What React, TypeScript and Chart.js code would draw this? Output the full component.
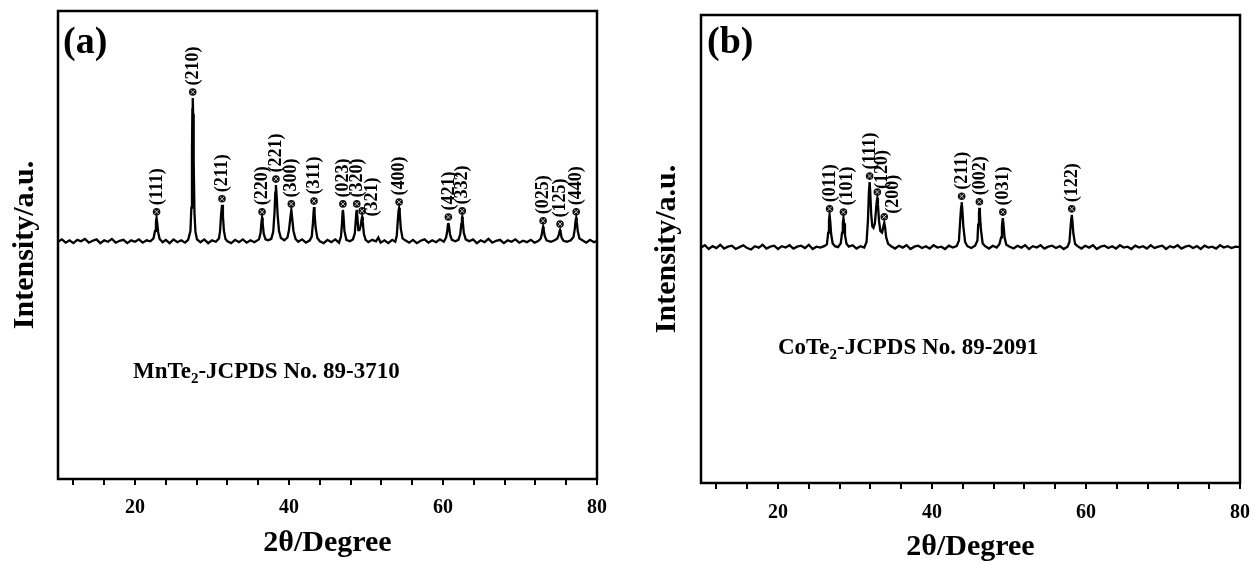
import React, { useEffect, useRef } from "react";
import { Chart, registerables } from "chart.js";
Chart.register(...registerables);

// ---------- Panel (a): MnTe2 ----------
const twoThetaA: number[] = [
  10, 10.5, 11, 11.5, 12, 12.5, 13, 13.5, 14, 14.5, 15, 15.5, 16, 16.5, 17, 17.5, 18, 18.5, 19, 19.5, 20, 20.5, 21, 21.5, 22,
  22.4, 22.6, 22.72, 22.8, 22.88, 23.0, 23.2,
  23.6, 24, 24.5, 25, 25.5, 26, 26.5, 26.9,
  27.2, 27.32, 27.4, 27.45, 27.5, 27.55, 27.62, 27.72, 27.85, 28.05,
  28.5, 29, 29.5, 30, 30.5, 30.9,
  31.05, 31.18, 31.3, 31.42, 31.55, 31.75,
  32, 32.5, 33, 33.5, 34, 34.5, 35, 35.5, 36.1,
  36.3, 36.42, 36.5, 36.58, 36.72, 36.95,
  37.3, 37.7, 37.95,
  38.12, 38.22, 38.3, 38.38, 38.52, 38.7, 38.95,
  39.4, 39.8, 40.0,
  40.15, 40.3, 40.42, 40.58, 40.85,
  41.2, 41.7, 42.2, 42.7, 42.95,
  43.1, 43.19, 43.25, 43.32, 43.45, 43.68,
  44, 44.5, 45, 45.5, 46, 46.5, 46.75,
  46.88, 46.96, 47.0, 47.06, 47.2, 47.45,
  47.9, 48.3, 48.55,
  48.68, 48.76, 48.8, 48.86, 49.0, 49.15,
  49.3, 49.42, 49.5, 49.58, 49.72, 49.95,
  50.3, 50.8, 51.3, 51.6, 51.9, 52.4, 52.9, 53.4, 53.8, 54.0,
  54.12, 54.22, 54.3, 54.38, 54.52, 54.75,
  55.1, 55.6, 56.1, 56.6, 57.1, 57.6, 58.1, 58.6, 59.1, 59.6, 60.1, 60.4,
  60.55, 60.65, 60.7, 60.78, 60.92, 61.15,
  61.6, 62.0, 62.25,
  62.38, 62.46, 62.5, 62.56, 62.7, 62.95,
  63.4, 63.9, 64.4, 64.9, 65.4, 65.9, 66.4, 66.9, 67.4, 67.9, 68.4, 68.9, 69.4, 69.9, 70.4, 70.9, 71.4, 71.9, 72.4, 72.7,
  72.85, 72.95, 73.0, 73.07, 73.2, 73.45,
  74.0, 74.5, 74.85,
  75.05, 75.15, 75.2, 75.27, 75.4, 75.65,
  76.1, 76.6, 76.95,
  77.12, 77.22, 77.3, 77.37, 77.5, 77.72,
  78.1, 78.6, 79.1, 79.6, 80,
];
const intensityA: number[] = [
  507, 512, 505, 510, 504, 511, 508, 513, 505, 509, 512, 504, 510, 507, 513, 505, 509, 511, 504, 510, 507, 512, 505, 510, 508,
  514, 530, 550, 558, 548, 528, 513,
  506, 511, 504, 512, 506, 510, 505, 511,
  530, 580, 700, 790, 814, 780, 680, 570, 528, 512,
  506, 512, 504, 510, 507, 514,
  530, 565, 586, 562, 530, 513,
  508, 504, 511, 506, 512, 505, 510, 506, 512,
  525, 548, 558, 546, 524, 512,
  510, 513, 528,
  570, 612, 628, 610, 565, 530, 515,
  510, 516, 532,
  555, 575, 556, 530, 513,
  507, 512, 505, 510, 518,
  545, 570, 581, 568, 538, 515,
  508, 504, 511, 506, 512, 505, 518,
  545, 570, 575, 566, 530, 511,
  508, 512, 525,
  555, 572, 575, 565, 532, 532,
  540, 554, 560, 550, 524, 511,
  506, 511, 508, 516, 505, 510, 504, 511, 507, 520,
  550, 572, 579, 568, 535, 514,
  510, 505, 511, 504, 509, 512, 505, 510, 506, 512, 507, 516,
  530, 544, 547, 540, 522, 511,
  508, 511, 524,
  545, 557, 560, 552, 526, 512,
  508, 512, 504, 510, 506, 513, 505, 509, 511, 504, 510, 507, 512, 505, 509, 506, 511, 505, 509, 514,
  525, 536, 539, 534, 520, 510,
  507, 510, 514,
  522, 530, 532, 528, 516, 509,
  507, 510, 517,
  535, 552, 558, 550, 530, 514,
  510, 505, 511, 506, 509,
];
const peakPosA = [22.8, 27.5, 31.3, 36.5, 38.3, 40.3, 43.25, 47.0, 48.8, 49.5, 54.3, 60.7, 62.5, 73.0, 75.2, 77.3];
const peakTopA = [558, 814, 586, 558, 628, 575, 581, 575, 575, 560, 579, 547, 560, 539, 532, 558];
const hklA = ["(111)", "(210)", "(211)", "(220)", "(221)", "(300)", "(311)", "(023)", "(320)", "(321)", "(400)", "(421)", "(332)", "(025)", "(125)", "(440)"];

// ---------- Panel (b): CoTe2 ----------
const twoThetaB: number[] = [
  10, 10.5, 11, 11.5, 12, 12.5, 13, 13.5, 14, 14.5, 15, 15.5, 16, 16.5, 17, 17.5, 18, 18.5, 19, 19.5, 20, 20.5, 21, 21.5, 22, 22.5, 23, 23.5, 24, 24.5, 25, 25.5, 26,
  26.35, 26.52, 26.62, 26.7, 26.78, 26.9, 27.1,
  27.4, 27.8, 28.15,
  28.32, 28.42, 28.5, 28.58, 28.7, 28.9,
  29.2, 29.7, 30.2, 30.7, 31.2, 31.5,
  31.68, 31.8, 31.9, 31.98, 32.1, 32.25, 32.4,
  32.58, 32.72, 32.83, 32.9, 32.98, 33.12, 33.3,
  33.52, 33.68, 33.8, 33.9, 34.05, 34.3,
  34.7, 35.2, 35.7, 36.2, 36.7, 37.2, 37.7, 38.2, 38.7, 39.2, 39.7, 40.2, 40.7, 41.2, 41.7, 42.2, 42.7, 43.2, 43.5,
  43.66, 43.78, 43.85, 43.93, 44.07, 44.3,
  44.6, 45.1, 45.6, 45.9,
  46.0, 46.1, 46.15, 46.22, 46.35, 46.58,
  46.9, 47.4, 47.9, 48.4, 48.75, 48.98,
  49.08, 49.16, 49.2, 49.27, 49.42, 49.65,
  50.1, 50.6, 51.1, 51.6, 52.1, 52.6, 53.1, 53.6, 54.1, 54.6, 55.1, 55.6, 56.1, 56.6, 57.1, 57.6, 57.85,
  58.0, 58.1, 58.15, 58.22, 58.36, 58.58,
  58.9, 59.4, 59.9, 60.4, 60.9, 61.4, 61.9, 62.4, 62.9, 63.4, 63.9, 64.4, 64.9, 65.4, 65.9, 66.4, 66.9, 67.4, 67.9, 68.4,
  68.9, 69.4, 69.9, 70.4, 70.9, 71.4, 71.9, 72.4, 72.9, 73.4, 73.9, 74.4, 74.9, 75.4, 75.9, 76.4, 76.9, 77.4, 77.9, 78.4,
  78.9, 79.4, 80,
];
const intensityB: number[] = [
  503, 508, 500, 506, 502, 509, 501, 505, 507, 500, 504, 508, 502, 499, 506, 503, 509, 501, 505, 507, 500, 506, 503, 508, 501, 505, 507, 502, 509, 500, 505, 503, 506,
  510, 535, 560, 573, 560, 532, 512,
  506, 504, 512,
  535, 556, 566, 555, 530, 511,
  505, 508, 501, 506, 503, 515,
  560, 620, 643, 622, 575, 548, 545,
  555, 582, 603, 609, 595, 560, 538,
  535, 548, 556, 547, 525, 511,
  506, 501, 507, 503, 508, 500, 505, 507, 502, 506, 501, 508, 503, 505, 500, 507, 503, 506, 518,
  560, 590, 600, 587, 548, 515,
  506, 502, 507, 518,
  552, 578, 588, 575, 542, 512,
  506, 501, 507, 503, 510, 525,
  548, 562, 566, 556, 525, 509,
  505, 501, 507, 503, 508, 500, 506, 503, 508, 501, 505, 507, 502, 506, 500, 505, 515,
  548, 566, 573, 563, 533, 511,
  506, 501, 507, 503, 508, 500, 505, 507, 502, 506, 501, 508, 503, 505, 500, 507, 503, 506, 501, 508,
  502, 505, 507, 500, 506, 503, 508, 501, 505, 507, 502, 506, 500, 507, 503, 505, 501, 508, 503, 506,
  502, 505, 504,
];
const peakPosB = [26.7, 28.5, 31.9, 32.9, 33.8, 43.85, 46.15, 49.2, 58.15];
const peakTopB = [573, 566, 643, 609, 556, 600, 588, 566, 573];
const hklB = ["(011)", "(101)", "(111)", "(120)", "(200)", "(211)", "(002)", "(031)", "(122)"];

// Axis ticks
const xMin = 10;
const xMax = 80;
const xTickValues = [12, 16, 20, 24, 28, 32, 36, 40, 44, 48, 52, 56, 60, 64, 68, 72, 76, 80];
const xTickLabels = [20, 40, 60, 80];

const FONT = '"Liberation Serif", "Times New Roman", serif';

type PanelCfg = {
  xs: number[];
  ys: number[];
  peakPos: number[];
  peakTop: number[];
  hkl: string[];
  nudge: Record<string, [number, number]>;
  letter: string;
  letterPos: [number, number];
  noteMain: string;
  noteSub: string;
  noteRest: string;
  notePos: [number, number];
  padding: { left: number; top: number; right: number; bottom: number };
  yWidth: number;
  xHeight: number;
  tickPad: number;
  xTitlePad: number;
  yTitlePad: number;
};

function drawMarker(ctx: CanvasRenderingContext2D, x: number, y: number) {
  const r = 3.8;
  ctx.save();
  ctx.fillStyle = "#111";
  ctx.beginPath();
  ctx.arc(x, y, r, 0, Math.PI * 2);
  ctx.fill();
  const d = r * 0.55;
  ctx.strokeStyle = "#ddd";
  ctx.lineWidth = 0.9;
  ctx.beginPath();
  ctx.moveTo(x - d, y - d);
  ctx.lineTo(x + d, y + d);
  ctx.moveTo(x + d, y - d);
  ctx.lineTo(x - d, y + d);
  ctx.stroke();
  ctx.restore();
}

function decorPlugin(cfg: PanelCfg) {
  return {
    id: "decor",
    afterDatasetsDraw(chart: any) {
      const { ctx, chartArea: ca, scales } = chart;
      const xs = scales.x;
      const ys = scales.y;
      ctx.save();
      // frame
      ctx.strokeStyle = "#000";
      ctx.lineWidth = 2.5;
      ctx.strokeRect(ca.left, ca.top, ca.right - ca.left, ca.bottom - ca.top);
      // peak markers & hkl labels
      cfg.peakPos.forEach((p, i) => {
        const px = xs.getPixelForValue(p);
        const py = ys.getPixelForValue(cfg.peakTop[i]) - 6;
        drawMarker(ctx, px, py);
        const [dx, dy] = cfg.nudge[cfg.hkl[i]] || [0, 0];
        ctx.save();
        ctx.translate(px + dx + 0.5, py - 6.5 + dy);
        ctx.rotate(-Math.PI / 2);
        ctx.fillStyle = "#000";
        ctx.font = `bold 18px ${FONT}`;
        ctx.textAlign = "left";
        ctx.textBaseline = "middle";
        ctx.fillText(cfg.hkl[i], 0, 0);
        ctx.restore();
      });
      // panel letter
      ctx.fillStyle = "#000";
      ctx.font = `bold 38px ${FONT}`;
      ctx.textAlign = "left";
      ctx.textBaseline = "middle";
      ctx.fillText(cfg.letter, cfg.letterPos[0], cfg.letterPos[1]);
      // note with subscript
      const [nx, ny] = cfg.notePos;
      ctx.font = `bold 23px ${FONT}`;
      ctx.fillText(cfg.noteMain, nx, ny);
      const w1 = ctx.measureText(cfg.noteMain).width;
      ctx.font = `bold 15px ${FONT}`;
      ctx.fillText(cfg.noteSub, nx + w1, ny + 7);
      const w2 = ctx.measureText(cfg.noteSub).width;
      ctx.font = `bold 23px ${FONT}`;
      ctx.fillText(cfg.noteRest, nx + w1 + w2, ny);
      ctx.restore();
    },
  };
}

function Panel({ left, width, cfg }: { left: number; width: number; cfg: PanelCfg }) {
  const ref = useRef<HTMLCanvasElement>(null);
  useEffect(() => {
    const n = Math.min(cfg.xs.length, cfg.ys.length);
    const pts = [];
    for (let i = 0; i < n; i++) pts.push({ x: cfg.xs[i], y: cfg.ys[i] });
    const chart = new Chart(ref.current as HTMLCanvasElement, {
      type: "line",
      data: {
        datasets: [
          {
            data: pts,
            borderColor: "#000",
            borderWidth: 2.3,
            pointRadius: 0,
            tension: 0,
            fill: false,
          },
        ],
      },
      options: {
        responsive: false,
        animation: false,
        devicePixelRatio: 1,
        layout: { padding: cfg.padding },
        plugins: { legend: { display: false }, tooltip: { enabled: false } },
        scales: {
          x: {
            type: "linear",
            min: xMin,
            max: xMax,
            afterBuildTicks: (s: any) => {
              s.ticks = xTickValues.map((v) => ({ value: v }));
            },
            afterFit: (s: any) => {
              s.height = cfg.xHeight;
              s.paddingLeft = 0;
              s.paddingRight = 0;
            },
            ticks: {
              autoSkip: false,
              maxRotation: 0,
              minRotation: 0,
              padding: cfg.tickPad,
              color: "#000",
              font: { family: FONT, size: 20, weight: "bold" },
              callback: (v: any) => (xTickLabels.includes(Number(v)) ? String(v) : ""),
            },
            grid: { drawOnChartArea: false, drawTicks: true, tickLength: 6, color: "#000", lineWidth: 2 },
            border: { display: false },
            title: {
              display: true,
              text: "2θ/Degree",
              color: "#000",
              font: { family: FONT, size: 30, weight: "bold", lineHeight: 1 },
              padding: { top: 0, bottom: cfg.xTitlePad },
            },
          },
          y: {
            min: 0,
            max: 1000,
            afterFit: (s: any) => {
              s.width = cfg.yWidth;
              s.paddingTop = 0;
              s.paddingBottom = 0;
            },
            ticks: { display: false },
            grid: { display: false },
            border: { display: false },
            title: {
              display: true,
              text: "Intensity/a.u.",
              color: "#000",
              font: { family: FONT, size: 30, weight: "bold", lineHeight: 1 },
              padding: { top: cfg.yTitlePad, bottom: 0 },
            },
          },
        },
      } as any,
      plugins: [decorPlugin(cfg)],
    });
    return () => chart.destroy();
  }, []);
  return (
    <canvas
      ref={ref}
      width={width}
      height={562}
      style={{ position: "absolute", left, top: 0, width, height: 562, display: "block" }}
    />
  );
}

const cfgA: PanelCfg = {
  xs: twoThetaA,
  ys: intensityA,
  peakPos: peakPosA,
  peakTop: peakTopA,
  hkl: hklA,
  nudge: { "(321)": [10, 12] },
  letter: "(a)",
  letterPos: [63, 43],
  noteMain: "MnTe",
  noteSub: "2",
  noteRest: "-JCPDS No. 89-3710",
  notePos: [133, 372],
  padding: { left: 0, top: 11, right: 30, bottom: 0 },
  yWidth: 58,
  xHeight: 83,
  tickPad: 11,
  xTitlePad: 4,
  yTitlePad: 10,
};

const cfgB: PanelCfg = {
  xs: twoThetaB,
  ys: intensityB,
  peakPos: peakPosB,
  peakTop: peakTopB,
  hkl: hklB,
  nudge: { "(101)": [3, 0], "(120)": [5, 3.5], "(200)": [9, 3.5] },
  letter: "(b)",
  letterPos: [67, 43],
  noteMain: "CoTe",
  noteSub: "2",
  noteRest: "-JCPDS No. 89-2091",
  notePos: [138, 348],
  padding: { left: 0, top: 15, right: 15, bottom: 0 },
  yWidth: 61,
  xHeight: 79,
  tickPad: 12,
  xTitlePad: 0,
  yTitlePad: 12,
};

export default function App() {
  return (
    <div style={{ position: "fixed", left: 0, top: 0, width: 1255, height: 562, background: "#fff", overflow: "hidden" }}>
      <Panel left={0} width={627} cfg={cfgA} />
      <Panel left={640} width={615} cfg={cfgB} />
    </div>
  );
}
